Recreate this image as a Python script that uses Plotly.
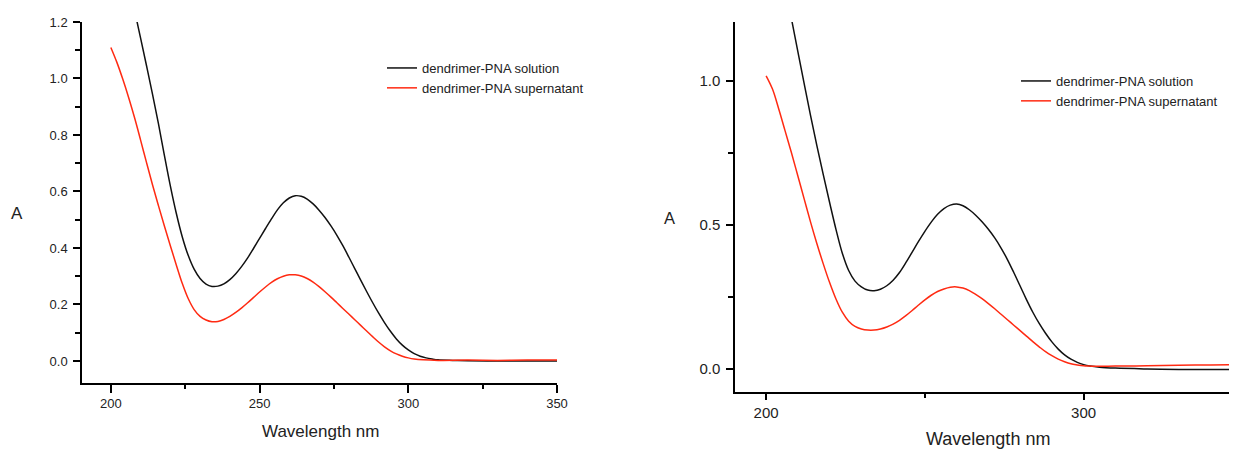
import plotly.graph_objects as go

# ---------------- data ----------------
# Left panel
wl_left_solution = [207, 208, 210, 212, 214, 216, 218, 220, 222, 224, 226, 228, 230, 232, 234, 236, 238,
                    240, 242, 244, 246, 248, 250, 252, 254, 256, 258, 260, 262, 264, 266, 268, 270, 272,
                    274, 276, 278, 280, 282, 284, 286, 288, 290, 292, 294, 296, 298, 300, 302, 304, 306,
                    308, 310, 315, 320, 330, 340, 350]
a_left_solution = [1.29, 1.24, 1.143, 1.045, 0.945, 0.84, 0.728, 0.62, 0.523, 0.44, 0.374, 0.325, 0.292,
                   0.272, 0.264, 0.265, 0.273, 0.288, 0.309, 0.335, 0.365, 0.399, 0.434, 0.469, 0.503, 0.535,
                   0.56, 0.577, 0.585, 0.583, 0.573, 0.556, 0.534, 0.508, 0.478, 0.445, 0.408, 0.368,
                   0.327, 0.286, 0.246, 0.207, 0.170, 0.136, 0.105, 0.078, 0.056, 0.039, 0.026, 0.017,
                   0.011, 0.007, 0.004, 0.002, 0.001, 0.0, 0.0, 0.0]

wl_left_super = [200, 202, 204, 206, 208, 210, 212, 214, 216, 218, 220, 222, 224, 226, 228, 230, 232,
                 234, 236, 238, 240, 242, 244, 246, 248, 250, 252, 254, 256, 258, 260, 262, 264, 266, 268,
                 270, 272, 274, 276, 278, 280, 282, 284, 286, 288, 290, 292, 294, 296, 298, 300, 302, 305,
                 310, 320, 330, 340, 350]
a_left_super = [1.11, 1.058, 0.998, 0.932, 0.86, 0.782, 0.702, 0.624, 0.55, 0.478, 0.408, 0.34, 0.275,
                0.221, 0.182, 0.158, 0.145, 0.139, 0.14, 0.147, 0.158, 0.172, 0.188, 0.206, 0.225, 0.244,
                0.262, 0.278, 0.291, 0.3, 0.305, 0.305, 0.301, 0.292, 0.279, 0.263, 0.245, 0.226, 0.206,
                0.186, 0.166, 0.146, 0.126, 0.106, 0.086, 0.067, 0.050, 0.036, 0.025, 0.017, 0.011, 0.007,
                0.004, 0.002, 0.003, 0.002, 0.003, 0.003]

# Right panel
wl_right_solution = [206, 208, 210, 212, 214, 216, 218, 220, 222, 224, 226, 228, 230, 232, 234, 236, 238,
                     240, 242, 244, 246, 248, 250, 252, 254, 256, 258, 260, 262, 264, 266, 268, 270, 272,
                     274, 276, 278, 280, 282, 284, 286, 288, 290, 292, 294, 296, 298, 300, 302, 305, 310,
                     320, 330, 340, 350]
a_right_solution = [1.33, 1.215, 1.102, 0.99, 0.88, 0.775, 0.675, 0.578, 0.485, 0.402, 0.342, 0.305,
                    0.285, 0.274, 0.272, 0.277, 0.289, 0.308, 0.335, 0.369, 0.406, 0.443, 0.478, 0.51,
                    0.537, 0.557, 0.569, 0.573, 0.567, 0.553, 0.534, 0.511, 0.485, 0.455, 0.42, 0.38,
                    0.335, 0.288, 0.241, 0.197, 0.158, 0.124, 0.094, 0.069, 0.049, 0.034, 0.023, 0.015,
                    0.010, 0.006, 0.003, 0.0, -0.002, -0.002, -0.002]

wl_right_super = [200, 202, 204, 206, 208, 210, 212, 214, 216, 218, 220, 222, 224, 226, 228, 230, 232,
                  234, 236, 238, 240, 242, 244, 246, 248, 250, 252, 254, 256, 258, 260, 262, 264, 266, 268,
                  270, 272, 274, 276, 278, 280, 282, 284, 286, 288, 290, 292, 294, 296, 298, 300, 302, 305,
                  310, 320, 330, 340, 350]
a_right_super = [1.018, 0.972, 0.902, 0.826, 0.75, 0.67, 0.59, 0.51, 0.435, 0.365, 0.3, 0.243, 0.197,
                 0.166, 0.148, 0.139, 0.135, 0.135, 0.139, 0.146, 0.156, 0.169, 0.185, 0.203, 0.222, 0.24,
                 0.256, 0.269, 0.278, 0.284, 0.285, 0.281, 0.272, 0.259, 0.244, 0.227, 0.209, 0.19, 0.171,
                 0.152, 0.133, 0.114, 0.095, 0.077, 0.06, 0.046, 0.034, 0.025, 0.018, 0.014, 0.011, 0.010,
                 0.009, 0.010, 0.011, 0.013, 0.014, 0.015]

series_names = ["dendrimer-PNA solution", "dendrimer-PNA supernatant"]
x_title = "Wavelength nm"
y_title = "A"
left_xticks = [200, 250, 300, 350]
right_xticks = [200, 300]

BLACK = "#111111"
RED = "#ff2a12"
TXT = "#222222"
FONT = "Liberation Sans, Arial, sans-serif"

# The page body adds an 8px offset; the figure is sized to fill the rest of the 1237x450 window.
OFF = 8
W, H = 1237 - OFF, 450 - OFF


def px(x):
    return (x - OFF) / W


def py(y):
    return 1 - (y - OFF) / H


fig = go.Figure()
fig.add_trace(go.Scatter(x=wl_left_solution, y=a_left_solution, name=series_names[0], mode="lines",
                         line=dict(color=BLACK, width=1.5, shape="spline", smoothing=1.0),
                         xaxis="x", yaxis="y", legend="legend"))
fig.add_trace(go.Scatter(x=wl_left_super, y=a_left_super, name=series_names[1], mode="lines",
                         line=dict(color=RED, width=1.5, shape="spline", smoothing=1.0),
                         xaxis="x", yaxis="y", legend="legend"))
fig.add_trace(go.Scatter(x=wl_right_solution, y=a_right_solution, name=series_names[0], mode="lines",
                         line=dict(color=BLACK, width=1.5, shape="spline", smoothing=1.0),
                         xaxis="x2", yaxis="y2", legend="legend2"))
fig.add_trace(go.Scatter(x=wl_right_super, y=a_right_super, name=series_names[1], mode="lines",
                         line=dict(color=RED, width=1.5, shape="spline", smoothing=1.0),
                         xaxis="x2", yaxis="y2", legend="legend2"))

axis_common = dict(showline=True, linecolor="black", linewidth=1.5, ticks="outside",
                   tickcolor="black", tickwidth=1.5, showgrid=False, zeroline=False,
                   mirror=False, automargin=False)

tf_left = dict(family=FONT, size=13, color=TXT)
tf_right = dict(family=FONT, size=15, color=TXT)
minor_common = dict(ticks="outside", tickwidth=1.5, tickcolor="black")

fig.update_layout(
    width=W, height=H,
    autosize=False,
    margin=dict(l=0, r=0, t=0, b=0, pad=0, autoexpand=False),
    paper_bgcolor="white", plot_bgcolor="white",
    font=dict(family=FONT, color=TXT),
    xaxis=dict(domain=[px(82), px(557)], range=[190.3, 350], tickvals=left_xticks, tickfont=tf_left,
               ticklen=8, minor=dict(dtick=25, tick0=200, ticklen=4, **minor_common),
               anchor="y", **axis_common),
    yaxis=dict(domain=[py(383), py(22)], range=[-0.078, 1.2], dtick=0.2, tickformat=".1f",
               tickfont=tf_left, ticklen=7,
               minor=dict(dtick=0.1, ticklen=5, **minor_common),
               anchor="x", ticklabelstandoff=3, **axis_common),
    xaxis2=dict(domain=[px(735), 1.0], range=[190.2, 348.3], tickvals=right_xticks, tickfont=tf_right,
                ticklen=6, minor=dict(dtick=50, tick0=200, ticklen=4, **minor_common),
                anchor="y2", **axis_common),
    yaxis2=dict(domain=[py(392), py(22)], range=[-0.08, 1.205], dtick=0.5, tickformat=".1f",
                tickfont=tf_right, ticklen=7,
                minor=dict(dtick=0.25, ticklen=5, **minor_common),
                anchor="x2", ticklabelstandoff=3, **axis_common),
    legend=dict(x=px(382), y=py(53), xanchor="left", yanchor="top", bgcolor="rgba(0,0,0,0)",
                font=dict(family=FONT, size=13, color=TXT), tracegroupgap=0),
    legend2=dict(x=px(1016), y=py(66), xanchor="left", yanchor="top", bgcolor="rgba(0,0,0,0)",
                 font=dict(family=FONT, size=13, color=TXT), tracegroupgap=0),
    annotations=[
        dict(text=x_title, xref="paper", yref="paper", x=px(320), y=py(431), showarrow=False,
             xanchor="center", yanchor="middle", font=dict(family=FONT, size=17, color=TXT)),
        dict(text=x_title, xref="paper", yref="paper", x=px(988), y=py(439), showarrow=False,
             xanchor="center", yanchor="middle", font=dict(family=FONT, size=18, color=TXT)),
        dict(text=y_title, xref="paper", yref="paper", x=px(17), y=py(213), showarrow=False,
             xanchor="center", yanchor="middle", font=dict(family=FONT, size=17, color=TXT)),
        dict(text=y_title, xref="paper", yref="paper", x=px(669), y=py(218), showarrow=False,
             xanchor="center", yanchor="middle", font=dict(family=FONT, size=16.5, color=TXT)),
    ],
)

fig.write_html("out.html")
